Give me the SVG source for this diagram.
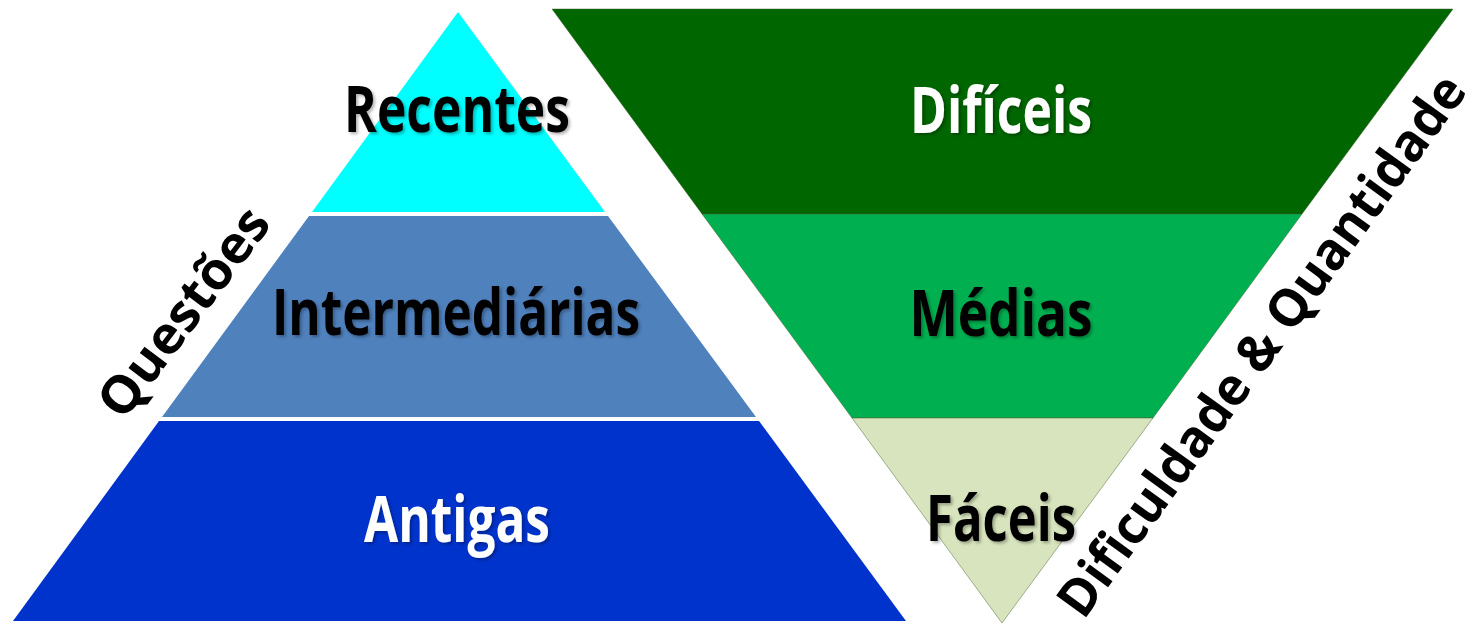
<svg xmlns="http://www.w3.org/2000/svg" width="1478" height="628" viewBox="0 0 1478 628">
  <defs>
    <filter id="shadow" x="-10%" y="-30%" width="120%" height="160%">
      <feDropShadow dx="2" dy="2" stdDeviation="1.5" flood-color="#000" flood-opacity="0.3"/>
    </filter>
  </defs>
  <style>
    .lbl { font-family: "Open Sans", "Liberation Sans", sans-serif; font-weight: bold; font-size: 64px; text-anchor: middle; filter: url(#shadow); }
    .dark { fill: #000; }
    .light { fill: #fff; }
    .side { font-family: "Open Sans", "Liberation Sans", sans-serif; font-weight: bold; font-size: 52px; text-anchor: middle; fill: #000; }
    .inv { stroke: #3d5a2a; stroke-opacity: 0.45; stroke-width: 1; }
  </style>
  <rect width="1478" height="628" fill="#fff"/>

  <g id="recentes">
    <polygon points="458,12 312,212 605,212" fill="#00FFFF"/>
    <text class="lbl dark" x="457" y="132" textLength="226" lengthAdjust="spacingAndGlyphs">Recentes</text>
  </g>
  <g id="intermediarias">
    <polygon points="309,216 608,216 756,417 162,417" fill="#4F81BD"/>
    <text class="lbl dark" x="456" y="335" textLength="368" lengthAdjust="spacingAndGlyphs">Intermediárias</text>
  </g>
  <g id="antigas">
    <polygon points="159,421 759,421 906,621 13,621" fill="#0033CC"/>
    <text class="lbl light" x="457" y="542" textLength="186" lengthAdjust="spacingAndGlyphs">Antigas</text>
  </g>

  <g id="dificeis">
    <polygon class="inv" points="552,9 1453,9 1302,214 702,214" fill="#006600"/>
    <text class="lbl light" x="1001" y="133" textLength="182" lengthAdjust="spacingAndGlyphs">Difíceis</text>
  </g>
  <g id="medias">
    <polygon class="inv" points="702,214 1302,214 1153,418 852,418" fill="#00B050"/>
    <text class="lbl dark" x="1001" y="336" textLength="183" lengthAdjust="spacingAndGlyphs">Médias</text>
  </g>
  <g id="faceis">
    <polygon class="inv" points="852,418 1153,418 1002,623" fill="#D7E4BD"/>
    <text class="lbl dark" x="1001" y="541" textLength="150" lengthAdjust="spacingAndGlyphs">Fáceis</text>
  </g>

  <g id="questoes">
    <text class="side" transform="translate(198,323) rotate(-53)" textLength="248" lengthAdjust="spacingAndGlyphs">Questões</text>
  </g>
  <g id="dificuldade-quantidade">
    <text class="side" transform="translate(1276,356) rotate(-54)" textLength="655" lengthAdjust="spacingAndGlyphs">Dificuldade &amp; Quantidade</text>
  </g>

  <g id="connectors"></g>
</svg>
